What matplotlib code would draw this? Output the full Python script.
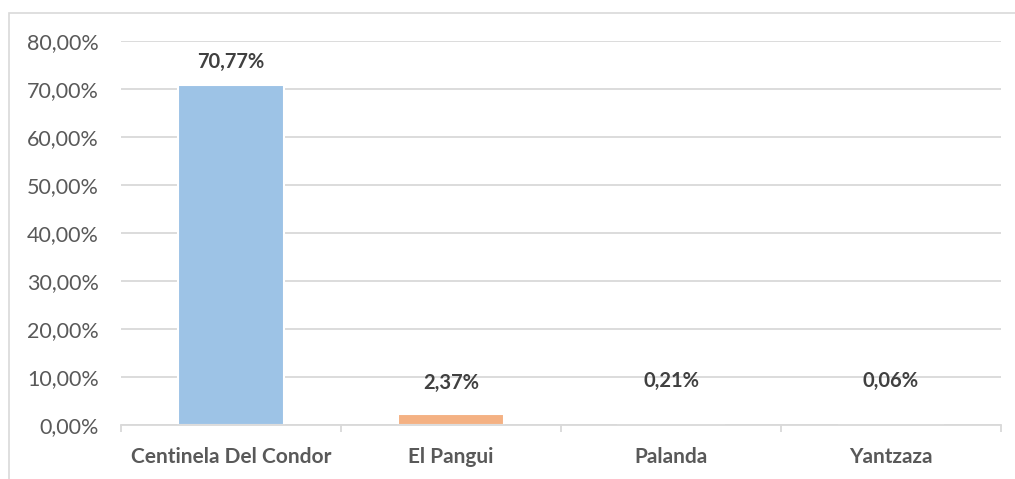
import numpy as np
import matplotlib
matplotlib.use("Agg")
from matplotlib import pyplot as plt
from matplotlib.patches import Rectangle

# Share of cases by canton
cantons = ["Centinela Del Condor", "El Pangui", "Palanda", "Yantzaza"]
shares = [70.77, 2.37, 0.21, 0.06]
colors = ["#9DC3E6", "#F4B183", "#C9C9C9", "#FFD966"]
# label lift above each bar top, in pixels
label_lift = [23, 31, 43, 44]

plt.rcParams['font.family'] = ['Lato', 'DejaVu Sans']

fig = plt.figure(figsize=(10.15, 4.79), dpi=100)
ax = fig.add_axes([121/1015, 54/479, 880/1015, 384/479])

# light frame around the whole chart
fig.patches.append(Rectangle((9/1015, -0.1), 1.2, (479-13)/479 + 0.1,
                             transform=fig.transFigure, fill=False,
                             edgecolor="#D9D9D9", linewidth=1.2))

x = np.arange(len(cantons))
ax.bar(x, shares, width=0.48, color=colors, edgecolor="white", linewidth=1.5, zorder=3)

for i, v in enumerate(shares):
    label = ("%.2f%%" % v).replace(".", ",")
    ax.annotate(label, (x[i], v), xytext=(0, label_lift[i] * 0.72),
                textcoords="offset points", ha="center", va="center",
                fontsize=14.5, fontweight="bold", color="#404040", zorder=4)

ax.set_xlim(-0.5, len(cantons) - 0.5)
ax.set_ylim(0, 80)
ax.set_yticks(np.arange(0, 81, 10))
ax.set_yticklabels([("%.2f%%" % t).replace(".", ",") for t in np.arange(0, 81, 10)])
ax.yaxis.grid(True, color="#D9D9D9", linewidth=1.3, zorder=0)
ax.tick_params(axis="y", length=0, pad=16, labelsize=15.5, labelcolor="#595959")

ax.set_xticks(x)
ax.set_xticklabels(cantons, fontweight="bold")
ax.set_xticks(np.arange(-0.5, len(cantons)), minor=True)
ax.tick_params(axis="x", which="major", length=0, pad=15.5, labelsize=15, labelcolor="#595959")
ax.tick_params(axis="x", which="minor", length=5, width=1.3, color="#D9D9D9")

for s in ["top", "right", "left"]:
    ax.spines[s].set_visible(False)
ax.spines["bottom"].set_color("#D9D9D9")
ax.spines["bottom"].set_linewidth(1.3)
ax.spines["bottom"].set_zorder(5)

plt.savefig("out.png", dpi=100)
